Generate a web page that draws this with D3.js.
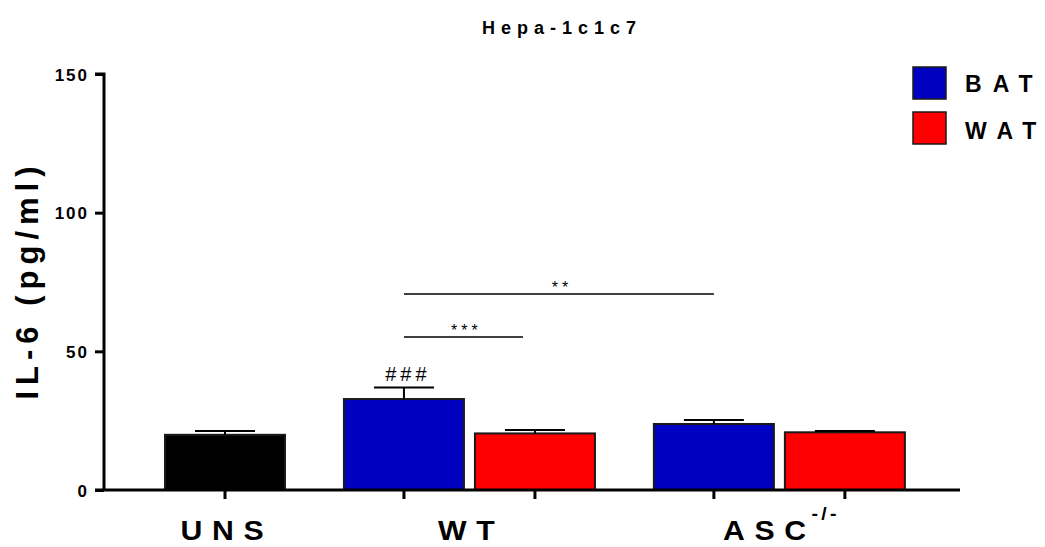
<!DOCTYPE html>
<html>
<head>
<meta charset="utf-8">
<script src="https://cdn.jsdelivr.net/npm/d3@7"></script>
<style>
  html, body { margin: 0; padding: 0; background: #fff; }
  svg text { font-family: "Liberation Sans", Arial, sans-serif; font-weight: bold; fill: #000; }
</style>
</head>
<body>
<svg id="chart" width="1045" height="547"></svg>
<script>
// IL-6 secretion by Hepa-1c1c7 cells
const groupNames = ["UNS", "WT", "ASC"];
const barGroup   = ["UNS", "WT", "WT", "ASC", "ASC"];
const barTissue  = ["none", "BAT", "WAT", "BAT", "WAT"];
const barMeans   = [19.9, 32.8, 20.4, 23.8, 20.8];
const barSEM     = [1.4, 4.2, 1.2, 1.4, 0.5];
const yTicks     = [0, 50, 100, 150];
const legendLabels = ["BAT", "WAT"];

// pairwise comparisons (bar indices), height of bracket in pg/ml
const compFrom  = [1, 1];
const compTo    = [3, 2];
const compLevel = [70.7, 55.2];
const compText  = ["**", "***"];
// marker above a single bar
const markBar  = [1];
const markText = ["###"];

const tissueColor = { none: "#000000", BAT: "#0000C0", WAT: "#FF0000" };

const svg = d3.select("#chart");

// layout
const axisLeft = 104, axisRight = 960, axisBottom = 490, axisTop = 74;
const barWidth = 120;
const groupGap = 0.366;           // extra spacing between groups, in bar units
const barStep = 131;

// bar slot positions: consecutive bars, extra space at each group change
const slots = [];
let s = 0;
barGroup.forEach((g, i) => {
  if (i > 0) { s += 1; if (g !== barGroup[i - 1]) s += groupGap; }
  slots.push(s);
});
const firstCenter = 225;
const x = d3.scaleLinear()
  .domain([(axisLeft - firstCenter) / barStep, (axisRight - firstCenter) / barStep])
  .range([axisLeft, axisRight]);

const y = d3.scaleLinear().domain([0, 150]).range([axisBottom, axisTop]);

// bars
svg.append("g").selectAll("rect").data(barMeans).join("rect")
  .attr("x", (d, i) => x(slots[i]) - barWidth / 2)
  .attr("y", d => y(d))
  .attr("width", barWidth)
  .attr("height", d => y(0) - y(d))
  .attr("fill", (d, i) => tissueColor[barTissue[i]])
  .attr("stroke", "#1a1a1a")
  .attr("stroke-width", 2);

// error bars (upper only)
const eb = svg.append("g").attr("stroke", "#000").attr("stroke-width", 2);
barMeans.forEach((m, i) => {
  const cx = x(slots[i]);
  eb.append("line").attr("x1", cx).attr("x2", cx).attr("y1", y(m)).attr("y2", y(m + barSEM[i]));
  eb.append("line").attr("x1", cx - barWidth / 4).attr("x2", cx + barWidth / 4)
    .attr("y1", y(m + barSEM[i])).attr("y2", y(m + barSEM[i]));
});

// y axis
const yAxis = d3.axisLeft(y).tickValues(yTicks).tickSize(9).tickPadding(6);
const gy = svg.append("g").attr("transform", `translate(${axisLeft},0)`).call(yAxis);
gy.select(".domain").attr("stroke-width", 3).attr("d", `M-9,${axisTop}H0V${axisBottom}`);
gy.selectAll(".tick line").attr("stroke-width", 3);
gy.selectAll(".tick text")
  .style("font-family", "Liberation Sans, Arial, sans-serif")
  .style("font-weight", "bold").style("font-size", "17px")
  .style("letter-spacing", "2px").attr("dy", "0.36em");

// x axis line with a tick under every bar
const gx = svg.append("g");
gx.append("line").attr("x1", axisLeft - 9).attr("x2", axisRight)
  .attr("y1", axisBottom).attr("y2", axisBottom)
  .attr("stroke", "#000").attr("stroke-width", 3);
gx.selectAll("line.tk").data(slots).join("line").attr("class", "tk")
  .attr("x1", d => x(d)).attr("x2", d => x(d))
  .attr("y1", axisBottom).attr("y2", axisBottom + 9)
  .attr("stroke", "#000").attr("stroke-width", 3);

// group labels, centred under each group
groupNames.forEach((g) => {
  const idx = barGroup.map((b, i) => b === g ? i : -1).filter(i => i >= 0);
  const cx = d3.mean(idx, i => x(slots[i]));
  const t = svg.append("g").attr("transform", `translate(${cx - 3},540) scale(1.08,1)`)
    .append("text").attr("text-anchor", "middle").attr("dx", 4.5)
    .style("font-size", "28px").style("letter-spacing", "9px");
  t.append("tspan").text(g);
  if (g === "ASC") {
    t.append("tspan").text("-/-").attr("dy", -20).attr("dx", -4)
      .style("font-size", "18px").style("letter-spacing", "3px");
  }
});

// y axis title
svg.append("text")
  .attr("transform", `translate(38,283) rotate(-90)`)
  .attr("text-anchor", "middle").attr("dx", 3)
  .style("font-size", "31px").style("letter-spacing", "6px")
  .text("IL-6 (pg/ml)");

// chart title
svg.append("text").attr("x", 562).attr("y", 34).attr("text-anchor", "middle")
  .style("font-size", "18px").style("letter-spacing", "6px")
  .text("Hepa-1c1c7");

// comparison brackets
compText.forEach((t, k) => {
  const x1 = x(slots[compFrom[k]]);
  const x2 = x(slots[compTo[k]]) - (k === 1 ? 12 : 0);
  const yy = y(compLevel[k]);
  svg.append("line").attr("x1", x1).attr("x2", x2).attr("y1", yy).attr("y2", yy)
    .attr("stroke", "#000").attr("stroke-width", 1.5);
  svg.append("text").attr("x", (x1 + x2) / 2 + 3).attr("y", yy - 1)
    .attr("text-anchor", "middle")
    .style("font-weight", "normal").style("font-size", "16px").style("letter-spacing", "4px")
    .text(t);
});

// marker above bar
markText.forEach((t, k) => {
  const i = markBar[k];
  svg.append("text").attr("x", x(slots[i]) + 4)
    .attr("y", y(barMeans[i] + barSEM[i]) - 6)
    .attr("text-anchor", "middle")
    .style("font-weight", "normal").style("font-size", "20px").style("letter-spacing", "4px")
    .text(t);
});

// legend (spaced letters, no trailing space after the last one)
const lg = svg.append("g");
legendLabels.forEach((l, k) => {
  lg.append("rect").attr("x", 913).attr("y", 67 + k * 45).attr("width", 33).attr("height", 32)
    .attr("fill", tissueColor[l]).attr("stroke", "#1a1a1a").attr("stroke-width", 1.5);
  const t = lg.append("text").attr("x", 965).attr("y", 92 + k * 47)
    .style("font-size", "23px");
  l.split("").forEach((ch, ci) => {
    t.append("tspan").attr("dx", ci === 0 ? 0 : 11).text(ch);
  });
});
</script>
</body>
</html>
